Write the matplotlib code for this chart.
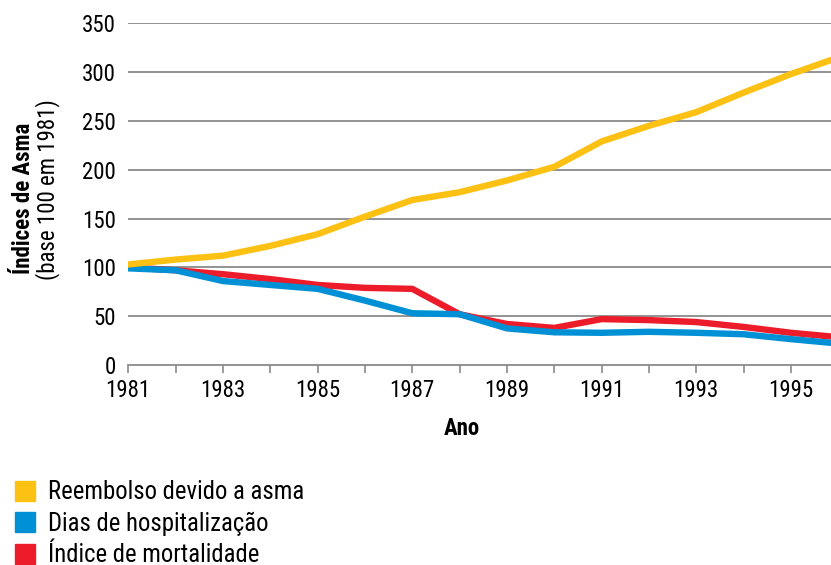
import matplotlib
matplotlib.use("Agg")
import matplotlib.pyplot as plt

plt.rcParams['font.family'] = ['Roboto Condensed', 'DejaVu Sans']

years = list(range(1981, 1997))
reembolso = [103, 108, 112, 122, 134, 152, 169, 177, 189, 203, 229, 245, 259, 279, 298, 315]
hospital = [99, 97, 86, 82, 78, 66, 53, 52, 37.5, 33.5, 33, 34, 33, 31.5, 26.5, 22]
mortalidade = [100, 97, 93, 88, 82, 79, 78, 52, 42, 38, 47, 46, 44, 39, 33, 28.5]

xticks = [1981, 1983, 1985, 1987, 1989, 1991, 1993, 1995]
yticks = [0, 50, 100, 150, 200, 250, 300, 350]

C_Y = "#FDC113"
C_B = "#0090D5"
C_R = "#EC1C2A"

W, H = 831, 565
fig = plt.figure(figsize=(W / 100, H / 100), dpi=100)
x0, x1 = 128.3, 128.3 + 15 * 47.33
y0, y1 = 365.0, 23.3
ax = fig.add_axes([x0 / W, 1 - y0 / H, (x1 - x0) / W, (y0 - y1) / H])

ax.set_xlim(1981, 1996)
ax.set_ylim(0, 350)
for v in yticks[1:]:
    ax.axhline(v, color="#8a8a8a", lw=1.3, zorder=1)

ax.plot(years, mortalidade, color=C_R, lw=4.6, zorder=3, solid_joinstyle='miter')
ax.plot(years, hospital, color=C_B, lw=4.6, zorder=4, solid_joinstyle='miter')
ax.plot(years, reembolso, color=C_Y, lw=4.6, zorder=5, solid_joinstyle='miter')

for s in ["top", "right", "left"]:
    ax.spines[s].set_visible(False)
ax.spines["bottom"].set_color("#8a8a8a")
ax.spines["bottom"].set_linewidth(1.3)
ax.spines["bottom"].set_zorder(2)

ax.set_xticks(range(1981, 1997))
ax.set_xticklabels([str(y) if y in xticks else "" for y in range(1981, 1997)], fontsize=16.5)
ax.set_yticks(yticks)
ax.set_yticklabels([str(v) for v in yticks], fontsize=16.5)
ax.tick_params(axis="x", direction="out", length=6, width=1.2, color="#8a8a8a", pad=4)
ax.tick_params(axis="y", length=0, pad=9)

fig.text(24 / W, 1 - 198 / H, "Índices de Asma", rotation=90, ha="center", va="center",
         fontsize=16.5, fontweight="bold")
fig.text(48 / W, 1 - 190 / H, "(base 100 em 1981)", rotation=90, ha="center", va="center",
         fontsize=16.5)
fig.text(462 / W, 1 - 435 / H, "Ano", ha="center", va="baseline", fontsize=16.5, fontweight="bold")

legend = [("Reembolso devido a asma", C_Y), ("Dias de hospitalização", C_B), ("Índice de mortalidade", C_R)]
for i, (lab, col) in enumerate(legend):
    yc = 490.7 + i * 31.4
    fig.patches.append(plt.Rectangle((15 / W, 1 - (yc + 10) / H), 20 / W, 20 / H,
                                     transform=fig.transFigure, color=col, figure=fig))
    fig.text(48 / W, 1 - (yc + 8.6) / H, lab, ha="left", va="baseline", fontsize=17.8)

fig.savefig("out.png", dpi=100)
